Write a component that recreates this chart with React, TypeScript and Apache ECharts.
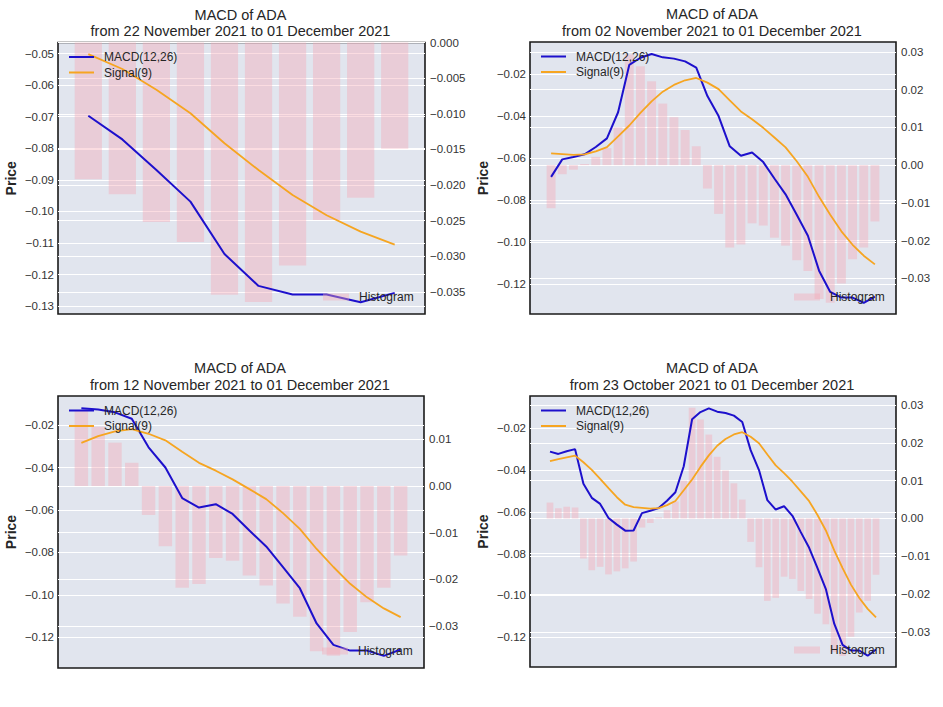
import { useEffect, useRef } from 'react';
import * as echarts from 'echarts';

// Daily values, 23 October 2021 .. 01 December 2021 (40 days)
const macdValues = [
  -0.0312, -0.0323, -0.0310, -0.0300, -0.0466, -0.0533, -0.0562, -0.0629, -0.0661, -0.0690,
  -0.0689, -0.0606, -0.0595, -0.0582, -0.0547, -0.0506, -0.0382, -0.0157, -0.0123, -0.0105,
  -0.0121, -0.0127, -0.0140, -0.0170, -0.0305, -0.0400, -0.0544, -0.0589, -0.0573, -0.0619,
  -0.0697, -0.0772, -0.0869, -0.0969, -0.1135, -0.1236, -0.1263, -0.1263, -0.1288, -0.1258,
];
const signalValues = [
  -0.0358, -0.0348, -0.0339, -0.0331, -0.0363, -0.0399, -0.0442, -0.0487, -0.0530, -0.0566,
  -0.0577, -0.0581, -0.0585, -0.0582, -0.0568, -0.0548, -0.0497, -0.0445, -0.0385, -0.0330,
  -0.0284, -0.0252, -0.0230, -0.0219, -0.0241, -0.0272, -0.0326, -0.0378, -0.0415, -0.0456,
  -0.0502, -0.0549, -0.0615, -0.0689, -0.0784, -0.0869, -0.0948, -0.1012, -0.1064, -0.1105,
];
const histogramValues = [
  0.0042, 0.0027, 0.0031, 0.0029, -0.0106, -0.0137, -0.0128, -0.0148, -0.0140, -0.0132,
  -0.0114, -0.0024, -0.0012, 0.0003, 0.0022, 0.0045, 0.0100, 0.0293, 0.0262, 0.0222,
  0.0163, 0.0127, 0.0093, 0.0050, -0.0062, -0.0129, -0.0218, -0.0210, -0.0154, -0.0160,
  -0.0192, -0.0213, -0.0252, -0.0280, -0.0354, -0.0364, -0.0313, -0.0249, -0.0218, -0.0149,
];

const chartTitle = 'MACD of ADA';
const panelPeriods = [
  'from 22 November 2021 to 01 December 2021',
  'from 02 November 2021 to 01 December 2021',
  'from 12 November 2021 to 01 December 2021',
  'from 23 October 2021 to 01 December 2021',
];
const panelLengths = [10, 30, 20, 40];

const priceRanges = [
  [-0.1325, -0.0465],
  [-0.1341, -0.0048],
  [-0.1345, -0.0063],
  [-0.1342, -0.0046],
];
const histRanges = [
  [-0.0381, 0],
  [-0.0394, 0.0326],
  [-0.039, 0.0193],
  [-0.0393, 0.0324],
];
const priceTicks = [
  [-0.13, -0.12, -0.11, -0.1, -0.09, -0.08, -0.07, -0.06, -0.05],
  [-0.12, -0.1, -0.08, -0.06, -0.04, -0.02],
  [-0.12, -0.1, -0.08, -0.06, -0.04, -0.02],
  [-0.12, -0.1, -0.08, -0.06, -0.04, -0.02],
];
const histTicks = [
  [-0.035, -0.03, -0.025, -0.02, -0.015, -0.01, -0.005, 0],
  [-0.03, -0.02, -0.01, 0, 0.01, 0.02, 0.03],
  [-0.03, -0.02, -0.01, 0, 0.01],
  [-0.03, -0.02, -0.01, 0, 0.01, 0.02, 0.03],
];
const histDecimals = [3, 2, 2, 2];

const MACD_NAME = 'MACD(12,26)';
const SIGNAL_NAME = 'Signal(9)';
const HIST_NAME = 'Histogram';

const FONT = '"Liberation Sans", Arial, Helvetica, sans-serif';
const BLUE = '#1d10cc';
const ORANGE = '#f6a521';
const HIST_COLOR = 'rgba(244, 168, 180, 0.40)';
const BG = '#e1e5ee';
const TEXT = '#262626';
const LINE_ICON = 'path://M0,0h25v2h-25z';

const boxes = [
  { left: 58, top: 42.5, width: 367, height: 271.5 },
  { left: 530, top: 42, width: 366, height: 272 },
  { left: 58, top: 396, width: 366, height: 272 },
  { left: 530, top: 396, width: 366, height: 271 },
];

function fmt(decimals: number) {
  return (v: number) => {
    const s = Math.abs(v).toFixed(decimals);
    return (v < -1e-12 ? '\u2212' : '') + s;
  };
}

function buildOption() {
  const grid: any[] = [];
  const xAxis: any[] = [];
  const yAxis: any[] = [];
  const series: any[] = [];
  const legend: any[] = [];
  const graphic: any[] = [];

  boxes.forEach((b, p) => {
    const n = panelLengths[p];
    const start = macdValues.length - n;
    const xMin = -0.4 - 0.05 * (n - 0.2);
    const xMax = n - 0.6 + 0.05 * (n - 0.2);
    const barW = (0.8 * b.width) / (xMax - xMin);

    grid.push({
      left: b.left,
      top: b.top,
      width: b.width,
      height: b.height,
      show: true,
      backgroundColor: BG,
      borderColor: '#1a1a1a',
      borderWidth: 1.6,
      containLabel: false,
    });
    xAxis.push({
      type: 'value',
      gridIndex: p,
      min: xMin,
      max: xMax,
      show: false,
      splitLine: { show: false },
    });
    const commonLabel = {
      fontSize: 11.5,
      color: '#333333',
      fontFamily: FONT,
    };
    yAxis.push({
      type: 'value',
      gridIndex: p,
      position: 'left',
      min: priceRanges[p][0],
      max: priceRanges[p][1],
      axisLine: { show: false },
      axisTick: { show: false, customValues: priceTicks[p] },
      axisLabel: { ...commonLabel, margin: 4, customValues: priceTicks[p], formatter: fmt(2) },
      splitLine: { show: true, lineStyle: { color: '#ffffff', width: 1 } },
      name: 'Price',
      nameLocation: 'middle',
      nameGap: 40,
      nameTextStyle: { fontWeight: 'bold', fontSize: 14, color: TEXT, fontFamily: FONT },
    });
    yAxis.push({
      type: 'value',
      gridIndex: p,
      position: 'right',
      min: histRanges[p][0],
      max: histRanges[p][1],
      axisLine: { show: false },
      axisTick: { show: false, customValues: histTicks[p] },
      axisLabel: { ...commonLabel, margin: 5, customValues: histTicks[p], formatter: fmt(histDecimals[p]) },
      splitLine: { show: true, lineStyle: { color: '#ffffff', width: 1 } },
    });

    series.push({
      type: 'bar',
      name: HIST_NAME,
      xAxisIndex: p,
      yAxisIndex: 2 * p + 1,
      data: histogramValues.slice(start).map((v, i) => [i, v]),
      barWidth: barW,
      itemStyle: { color: HIST_COLOR },
      z: 1,
    });
    series.push({
      type: 'line',
      name: MACD_NAME,
      xAxisIndex: p,
      yAxisIndex: 2 * p,
      data: macdValues.slice(start).map((v, i) => [i, v]),
      symbol: 'none',
      lineStyle: { color: BLUE, width: 2 },
      itemStyle: { color: BLUE },
      z: 3,
    });
    series.push({
      type: 'line',
      name: SIGNAL_NAME,
      xAxisIndex: p,
      yAxisIndex: 2 * p,
      data: signalValues.slice(start).map((v, i) => [i, v]),
      symbol: 'none',
      lineStyle: { color: ORANGE, width: 1.8 },
      itemStyle: { color: ORANGE },
      z: 3,
    });

    legend.push({
      data: [
        { name: MACD_NAME, icon: LINE_ICON, itemStyle: { color: BLUE } },
        { name: SIGNAL_NAME, icon: LINE_ICON, itemStyle: { color: ORANGE } },
      ],
      orient: 'vertical',
      left: b.left + 11,
      top: b.top + 8.5,
      padding: 0,
      itemWidth: 25,
      itemHeight: 14,
      itemGap: 3.5,
      symbolKeepAspect: true,
      selectedMode: false,
      textStyle: { fontSize: 12, color: TEXT, fontFamily: FONT, padding: [0, 0, 0, 5] },
    });
    legend.push({
      data: [{ name: HIST_NAME, icon: 'rect' }],
      orient: 'vertical',
      left: b.left + b.width - 102,
      top: b.top + b.height - 23,
      padding: 0,
      itemWidth: 26,
      itemHeight: 7,
      selectedMode: false,
      textStyle: { fontSize: 12, color: TEXT, fontFamily: FONT, padding: [0, 0, 0, 5] },
    });

    graphic.push({
      type: 'text',
      x: b.left + b.width / 2 - 1,
      y: b.top - 36,
      style: {
        text: chartTitle + '\n' + panelPeriods[p],
        align: 'center',
        verticalAlign: 'top',
        textAlign: 'center',
        textVerticalAlign: 'top',
        fontSize: 14.5,
        fontFamily: FONT,
        lineHeight: 16.5,
        fill: TEXT,
      },
    });
  });

  return {
    animation: false,
    backgroundColor: '#ffffff',
    grid,
    xAxis,
    yAxis,
    series,
    legend,
    graphic,
  };
}

export default function App() {
  const ref = useRef<HTMLDivElement>(null);
  useEffect(() => {
    document.body.style.margin = '0';
    document.body.style.background = '#ffffff';
    if (!ref.current) return;
    const chart = echarts.init(ref.current, undefined, { renderer: 'svg' });
    chart.setOption(buildOption() as any);
    return () => chart.dispose();
  }, []);
  return <div ref={ref} style={{ width: 943, height: 707 }} />;
}
